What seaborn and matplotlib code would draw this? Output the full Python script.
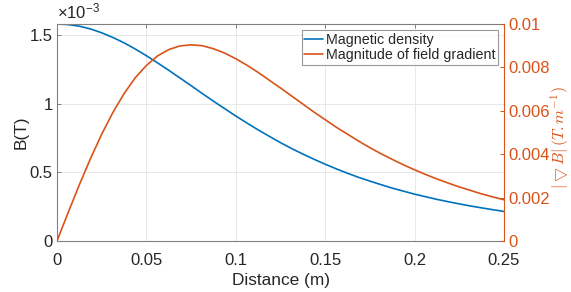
import numpy as np
import pandas as pd
import seaborn as sns
import matplotlib.pyplot as plt
from matplotlib.ticker import FuncFormatter

# values
distance = [0, 0.00625, 0.0125, 0.01875, 0.025, 0.03125, 0.0375, 0.04375, 0.05, 0.05625,
            0.0625, 0.06875, 0.075, 0.08125, 0.0875, 0.09375, 0.1, 0.10625, 0.1125, 0.11875,
            0.125, 0.13125, 0.1375, 0.14375, 0.15, 0.15625, 0.1625, 0.16875, 0.175, 0.18125,
            0.1875, 0.19375, 0.2, 0.20625, 0.2125, 0.21875, 0.225, 0.23125, 0.2375, 0.24375,
            0.25]
# magnetic density in units of 1e-3 T
density_e3 = [1.580, 1.576, 1.564, 1.544, 1.516, 1.482, 1.443, 1.398, 1.349, 1.297,
              1.243, 1.187, 1.131, 1.074, 1.018, 0.964, 0.910, 0.859, 0.809, 0.762,
              0.716, 0.673, 0.633, 0.595, 0.559, 0.525, 0.493, 0.463, 0.436, 0.410,
              0.385, 0.363, 0.341, 0.322, 0.303, 0.286, 0.270, 0.255, 0.241, 0.228,
              0.215]
gradient = [0, 0.00131, 0.00259, 0.00380, 0.00492, 0.00592, 0.00679, 0.00752, 0.00809, 0.00853,
            0.00882, 0.00899, 0.00904, 0.00900, 0.00886, 0.00866, 0.00840, 0.00810, 0.00777, 0.00741,
            0.00705, 0.00668, 0.00631, 0.00594, 0.00559, 0.00524, 0.00492, 0.00460, 0.00430, 0.00402,
            0.00376, 0.00351, 0.00328, 0.00306, 0.00286, 0.00267, 0.00249, 0.00233, 0.00217, 0.00203,
            0.00190]

df = pd.DataFrame({"Distance": distance,
                   "B": np.array(density_e3) * 1e-3,
                   "G": gradient})

blue = "#0072BD"
orange = "#D95319"
spine = "#808080"
txt = "#262626"

sns.set_theme(style="white")
plt.rcParams["font.family"] = ["Liberation Sans", "DejaVu Sans"]
plt.rcParams["mathtext.fontset"] = "cm"

fig = plt.figure(figsize=(5.71, 2.92), dpi=100)
ax = fig.add_axes([0.0998, 0.1747, 0.7829, 0.7431])
ax2 = ax.twinx()

sns.lineplot(data=df, x="Distance", y="B", ax=ax, color=blue, lw=1.2, label="Magnetic density", legend=False)
sns.lineplot(data=df, x="Distance", y="G", ax=ax2, color=orange, lw=1.2, label="Magnitude of field gradient", legend=False)

ax.set_xlim(0, 0.25)
ax.set_ylim(0, 1.58e-3)
ax2.set_ylim(0, 0.01)
ax.set_xticks([0, 0.05, 0.1, 0.15, 0.2, 0.25])
ax.set_yticks([0, 0.5e-3, 1e-3, 1.5e-3])
ax2.set_yticks([0, 0.002, 0.004, 0.006, 0.008, 0.01])
ax.xaxis.set_major_formatter(FuncFormatter(lambda v, p: "%g" % v))
ax.yaxis.set_major_formatter(FuncFormatter(lambda v, p: "%g" % (v * 1e3)))
ax2.yaxis.set_major_formatter(FuncFormatter(lambda v, p: "%g" % v))

ax.grid(True, color="#e8e8e8", lw=0.7)
ax.set_axisbelow(True)

for s in ["left", "bottom", "top"]:
    ax.spines[s].set_color(spine)
    ax.spines[s].set_linewidth(0.8)
ax.spines["right"].set_visible(False)
for s in ["left", "bottom", "top"]:
    ax2.spines[s].set_visible(False)
ax2.spines["right"].set_color(orange)
ax2.spines["right"].set_linewidth(0.8)

ax.tick_params(axis="both", direction="in", length=3, width=0.7, color=spine,
               labelsize=12, labelcolor=txt, top=True, pad=3)
ax.tick_params(axis="x", pad=9)
ax2.tick_params(axis="y", direction="in", length=3, width=0.7, color=orange,
                labelsize=12, labelcolor=orange, pad=3)

ax.set_xlabel("Distance (m)", fontsize=12.4, color=txt, labelpad=3)
ax.set_ylabel("B(T)", fontsize=12.4, color=txt, labelpad=1)
ax2.set_ylabel("")
fig.text(559.5 / 571, 0.5 + 0.03, r"$|\bigtriangledown B|\,(T.m^{-1})$", fontsize=11.5, color=orange,
         rotation=90, ha="center", va="center")

ax.text(0, 1.01, r"$\mathregular{\times10^{-3}}$", transform=ax.transAxes, fontsize=12, color=txt,
        ha="left", va="bottom")

h1, l1 = ax.get_legend_handles_labels()
h2, l2 = ax2.get_legend_handles_labels()
leg = ax2.legend(h1 + h2, l1 + l2, loc="upper right", fontsize=10.3, frameon=True, fancybox=False,
                 handlelength=1.3, handletextpad=0.2, borderpad=0.2, labelspacing=0.1,
                 borderaxespad=0.4, edgecolor=spine)
leg.get_frame().set_linewidth(0.8)
for t in leg.get_texts():
    t.set_color(txt)

fig.savefig("out.png", dpi=100)
